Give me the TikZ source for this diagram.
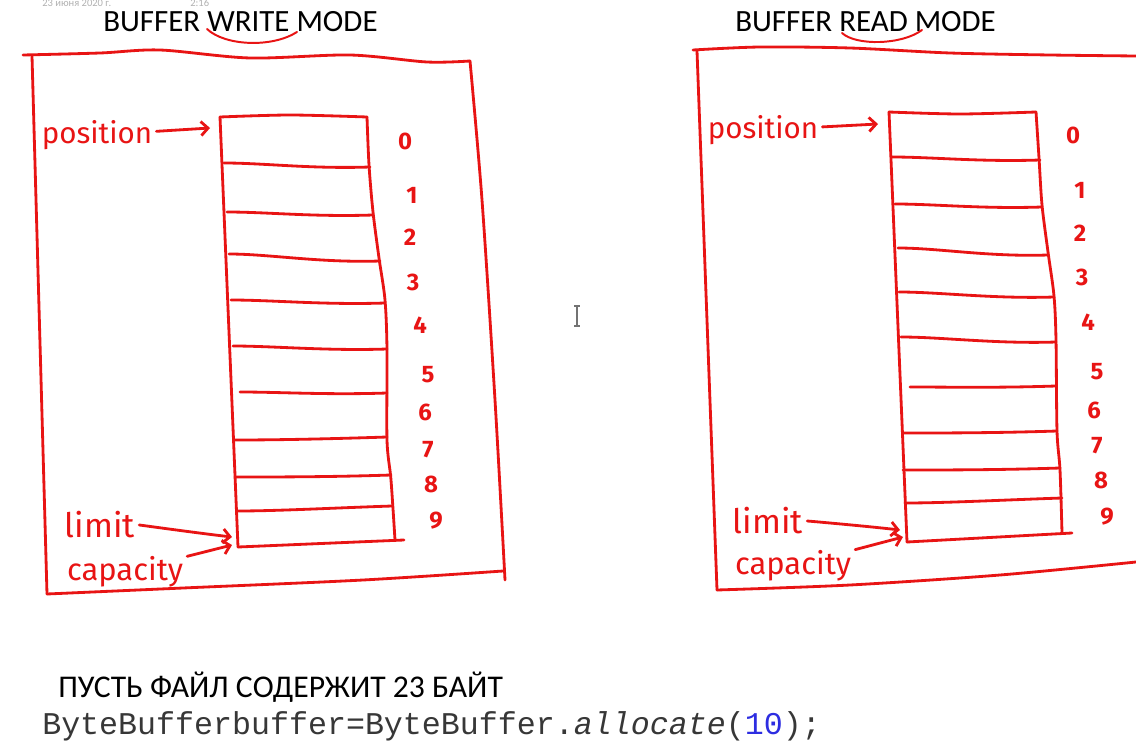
\documentclass[tikz,border=0pt]{standalone}
\usepackage{fontspec}
\setmainfont{Carlito}
\setmonofont{Liberation Mono}
\newfontfamily\handfont{Fira Sans}
\usetikzlibrary{positioning,arrows.meta}
\definecolor{marker}{RGB}{232,20,20}
\definecolor{codeblue}{RGB}{45,45,225}
\definecolor{codegray}{RGB}{55,55,55}
\tikzset{
  pen/.style={draw=marker,line width=2pt,line cap=round,line join=round},
  pointer/.style={pen,-{Straight Barb[length=5pt,width=10pt,line width=2pt]}},
  handlabel/.style={text=marker,inner sep=0pt,outer sep=3pt,font=\handfont\fontsize{#1}{#1}\selectfont},
  handlabel/.default=21,
  idx/.style={text=marker,inner sep=0pt,font=\handfont\bfseries\fontsize{17}{17}\selectfont},
  title/.style={anchor=base west,inner sep=0pt,font=\fontsize{22}{24}\selectfont}
}

\begin{document}
\begin{tikzpicture}[x=0.025cm,y=-0.025cm]
  \fill[white] (0,0) rectangle (1136,755);
  \useasboundingbox (0,0) rectangle (1136,755);

  % screen leftovers
  \node[anchor=base west,inner sep=0pt,text=black!30,font=\fontsize{7.5}{8}\selectfont] (stamp) at (42,7) {23 июня 2020 г.};
  \node[anchor=base west,inner sep=0pt,text=black!30,font=\fontsize{7.5}{8}\selectfont] (clock) at (190,7) {2:16};
  \draw[black!55,line width=0.8pt] (574,306) -- (580,306) (577,306) -- (577,326) (574,326) -- (580,326);

  % titles
  \node[title] (wtitle) at (103,32) {BUFFER WRITE MODE};
  \node[title] (rtitle) at (735,32) {BUFFER READ MODE};
  \draw[pen,line width=1.4pt] (207,29) .. controls (225,46) and (272,48) .. (297,32);
  \draw[pen,line width=1.4pt] (842,33) .. controls (856,46) and (902,45) .. (922,30);

  % left frame
  \draw[pen] plot[smooth] coordinates {(23,55) (100,53) (160,50) (250,58) (350,55) (427,62) (470,61)};
  \draw[pen] (32,56) -- (47,594);
  \draw[pen] plot[smooth] coordinates {(470,61) (482,200) (495,400) (505,580)};
  \draw[pen] plot[smooth] coordinates {(47,594) (183,588) (363,580) (503,571)};

  % right frame
  \draw[pen] plot[smooth] coordinates {(693,50) (760,47) (850,48) (950,53) (1050,55) (1136,56)};
  \draw[pen] (697,51) -- (717,590);
  \draw[pen] plot[smooth] coordinates {(717,590) (850,585) (1000,575) (1136,562)};

  % write mode buffer
  \coordinate (wTL) at (220,117);
  \coordinate (wTR) at (367,117);
  \coordinate (wBL) at (238,547);
  \coordinate (wBR) at (404,540);
  \draw[pen] plot[smooth] coordinates {(wTL) (290,115) (wTR)};
  \draw[pen] (wTL) -- (wBL);
  \draw[pen] plot[smooth] coordinates {(wTR) (369,165) (373,212) (379,258) (385,300) (387,350) (387,440) (391,480) (395,540)};
  \draw[pen] (wBL) -- (wBR);
  \foreach \xl/\yl/\xr/\yr in {224/163/370/167, 227/212/373/215, 229/254/380/261,
      231/300/385/303, 233/346/387/349, 240/392/387/393, 235/440/387/437,
      235/477/391/475, 237/511/392/506}
    \draw[pen] (\xl,\yl) .. controls +(40,0) and +(-60,2) .. (\xr,\yr);

  % read mode buffer
  \coordinate (rTL) at (889,112);
  \coordinate (rTR) at (1036,112);
  \coordinate (rBL) at (907,542);
  \coordinate (rBR) at (1072,533);
  \draw[pen] plot[smooth] coordinates {(rTL) (960,114) (rTR)};
  \draw[pen] (rTL) -- (rBL);
  \draw[pen] plot[smooth] coordinates {(rTR) (1039,158) (1042,205) (1048,252) (1054,296) (1056,340) (1057,431) (1060,470) (1062,533)};
  \draw[pen] (rBL) -- (rBR);
  \foreach \xl/\yl/\xr/\yr in {892/157/1040/160, 895/204/1042/207, 898/248/1048/255,
      899/292/1054/297, 901/337/1056/342, 910/387/1056/386, 903/433/1057/431,
      903/470/1060/468, 905/503/1062/498}
    \draw[pen] (\xl,\yl) .. controls +(40,0) and +(-60,2) .. (\xr,\yr);

  % cell numbers
  \foreach \d/\px/\py in {0/405/141, 1/412/195, 2/410/237, 3/413/282, 4/420/325,
      5/428/375, 6/425/412, 7/428/450, 8/431/484, 9/436/521}
    \node[idx] (widx\d) at (\px,\py) {\d};
  \foreach \d/\px/\py in {0/1073/135, 1/1080/190, 2/1080/233, 3/1082/277, 4/1088/322,
      5/1097/372, 6/1094/410, 7/1097/446, 8/1101/480, 9/1107/517}
    \node[idx] (ridx\d) at (\px,\py) {\d};

  % pointers, write mode
  \node[handlabel=21] (wpos) at (97,135) {position};
  \node[handlabel=24] (wlim) at (100,525) {limit};
  \node[handlabel=22] (wcap) at (125,572) {capacity};
  \coordinate (wposTip) at (210,128);
  \coordinate (wlimTip) at (232,537);
  \coordinate (wcapTip) at (232,545);
  \draw[pointer] (wpos) -- (wposTip);
  \draw[pointer] (wlim) .. controls +(40,0) and +(-35,-4) .. (wlimTip);
  \draw[pointer] (wcap) -- (wcapTip);

  % pointers, read mode
  \node[handlabel=21] (rpos) at (763,130) {position};
  \node[handlabel=24] (rlim) at (768,521) {limit};
  \node[handlabel=22] (rcap) at (793,566) {capacity};
  \coordinate (rposTip) at (878,124);
  \coordinate (rlimTip) at (900,530);
  \coordinate (rcapTip) at (903,537);
  \draw[pointer] (rpos) -- (rposTip);
  \draw[pointer] (rlim) .. controls +(40,0) and +(-35,-4) .. (rlimTip);
  \draw[pointer] (rcap) -- (rcapTip);

  % bottom lines
  \node[anchor=base west,inner sep=0pt,font=\fontsize{22.5}{25}\selectfont] (note) at (58,697) {ПУСТЬ ФАЙЛ СОДЕРЖИТ 23 БАЙТ};
  \node[anchor=base west,inner sep=0pt,text=codegray,font=\ttfamily\fontsize{22.5}{25}\selectfont] (code) at (42,734)
    {ByteBufferbuffer=ByteBuffer.\textit{allocate}(\textcolor{codeblue}{10});};
\end{tikzpicture}
\end{document}
